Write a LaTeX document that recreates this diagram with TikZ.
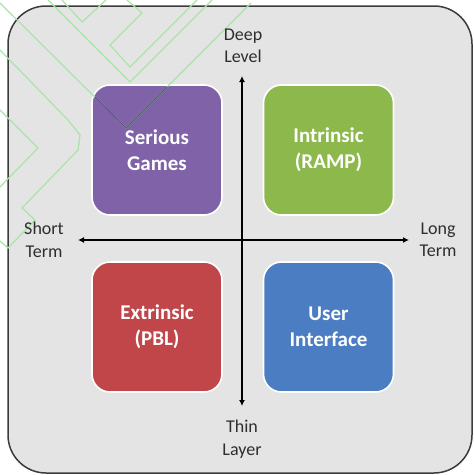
\documentclass[tikz,border=0pt]{standalone}
\usepackage{fontspec}
\setmainfont{Carlito}
\usetikzlibrary{arrows.meta}

\definecolor{frameFill}{HTML}{E4E4E4}
\definecolor{frameLine}{HTML}{3C3C3C}
\definecolor{qPurple}{HTML}{7F62A8}
\definecolor{qGreen}{HTML}{8DB94C}
\definecolor{qRed}{HTML}{C0464A}
\definecolor{qBlue}{HTML}{4A7DC1}
\definecolor{axisText}{HTML}{2E2E2E}
\definecolor{chevron}{RGB}{168,228,168}
\definecolor{chevronDark}{RGB}{88,86,122}

\tikzset{
  quad/.style={rounded corners=18pt, minimum width=130pt, minimum height=130pt,
    draw=white, line width=1.6pt, text=white, align=center,
    font=\fontsize{21}{26}\selectfont\bfseries, inner sep=0pt},
  axislabel/.style={align=center, text=axisText,
    font=\fontsize{18}{22.5}\selectfont, inner sep=0pt},
  axisline/.style={line width=1.8pt, black,
    {Latex[length=6pt,width=6pt]}-{Latex[length=6pt,width=6pt]}},
  chevronline/.style={chevron, line width=1.2pt}
}

\begin{document}
\begin{tikzpicture}[x=1pt, y=-1pt]
  \useasboundingbox (0,0) rectangle (474,475);
  \fill[white] (0,0) rectangle (474,475);

  % outer panel
  \node[draw=frameLine, fill=frameFill, line width=1.5pt, rounded corners=38pt,
        minimum width=464pt, minimum height=467pt, inner sep=0pt]
        (panel) at (240,239.5) {};

  % four quadrant boxes
  \node[quad, fill=qPurple] (serious)   at (157,150) {Serious\\Games};
  \node[quad, fill=qGreen]  (intrinsic) at (328.5,150) {Intrinsic\\(RAMP)};
  \node[quad, fill=qRed]    (extrinsic) at (157,327) {Extrinsic\\(PBL)};
  \node[quad, fill=qBlue]   (ui)        at (328.5,327) {User\\Interface};

  % faint chevron outlines in the upper left
  \begin{scope}[chevronline]
    \draw (48,0) -- (130,82) -- (212,0);
    \draw (62,0) -- (82,22) -- (106,0);
    \draw (127,0) -- (142,13) -- (110,45) -- (130,67) -- (197,0);
    \draw (0,50) -- (68,120) -- (80,135) -- (78,150) -- (22,208) -- (35,220)
          -- (8,248) -- (0,241);
    \draw (0,110) -- (38,148) -- (0,187);
    \draw (0,3) -- (126,128) -- (251,3);
  \end{scope}
  % the same outline where it crosses the purple box
  \begin{scope}
    \clip[rounded corners=17pt] (93.5,86.5) rectangle (220.5,213.5);
    \draw[chevronDark, line width=1.3pt] (0,3) -- (126,128) -- (251,3);
  \end{scope}

  % axes
  \coordinate (top)    at (242,76);
  \coordinate (bottom) at (242,406);
  \coordinate (left)   at (78,240);
  \coordinate (right)  at (409,240);
  \draw[axisline] (left) -- (right);
  \draw[axisline] (bottom) -- (top);

  % axis labels
  \node[axislabel] (deep)  at (243,46)  {Deep\\Level};
  \node[axislabel] (thin)  at (242,439) {Thin\\Layer};
  \node[axislabel] (short) at (44,240)  {Short\\Term};
  \node[axislabel] (long)  at (438,240) {Long\\Term};
\end{tikzpicture}
\end{document}
